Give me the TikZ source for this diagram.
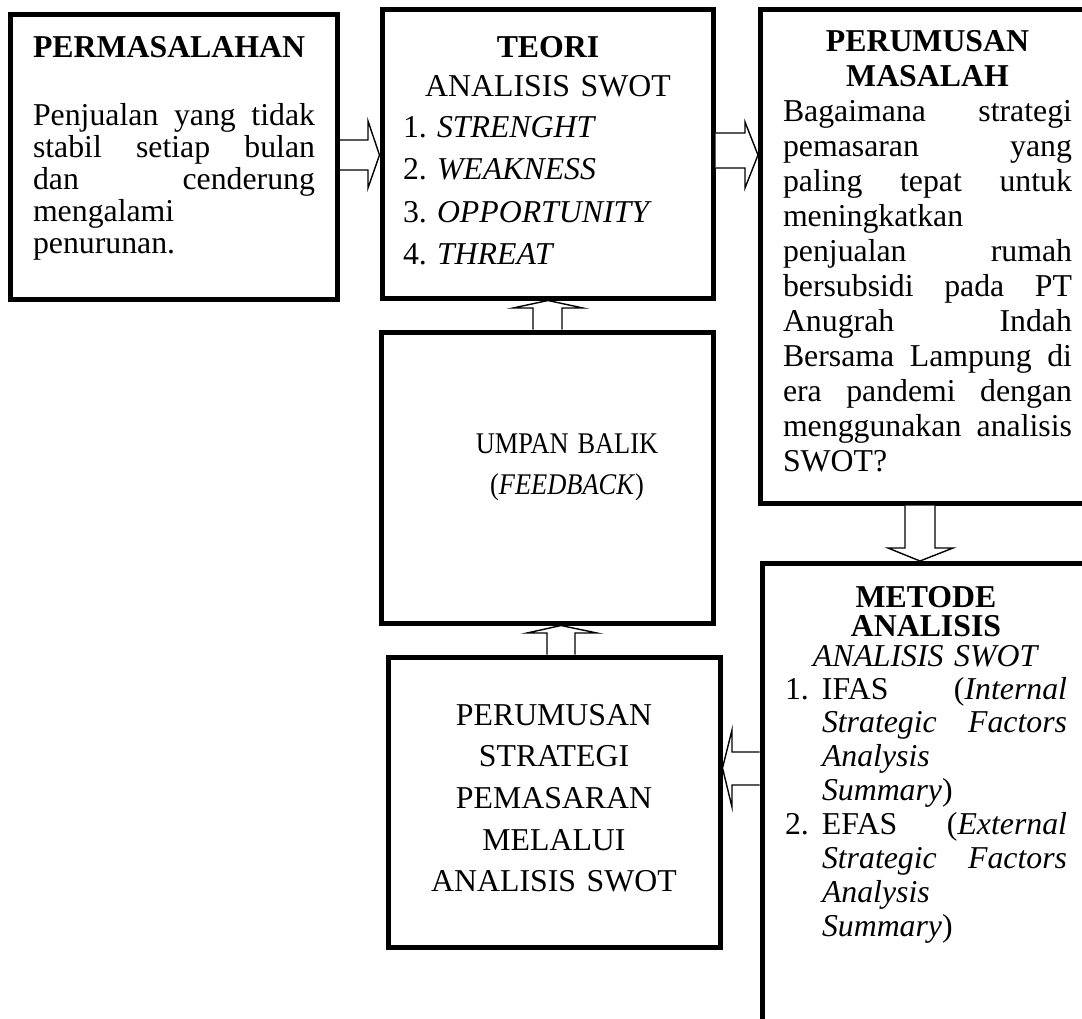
\documentclass[tikz,border=0pt]{standalone}
\usepackage{graphicx}
\usepackage{fontspec}
\setmainfont{Liberation Serif}
\usetikzlibrary{fit}
\newcommand\Jst[2]{{\spaceskip=0pt\xspaceskip=0pt\makebox[#1][s]{#2}}}
\newcommand\Lft[2]{\makebox[#1][l]{#2}}
\newcommand\Nar[1]{\scalebox{0.88}[1]{#1}}
\tikzset{
  box/.style={draw, line width=2.5pt, inner sep=0pt},
  txt/.style={inner sep=0pt, outer sep=0pt},
  barrow/.style={draw=black, fill=white, line width=0.7pt, line join=miter},
}
\begin{document}
\begin{tikzpicture}[x=0.5pt, y=-0.5pt]
\clip (0,0) rectangle (1082,1018);
\fill[white] (0,0) rectangle (1082,1018);

% boxes
\node[box, fit={(10,14) (337.5,299.5)}] (b1) {};
\node[box, fit={(382,9) (713,298)}] (b2) {};
\node[box, fit={(760.5,9) (1100,503)}] (b3) {};
\node[box, fit={(762,563.5) (1100,1040)}] (b4) {};
\node[box, fit={(388,657) (720,947.5)}] (b5) {};
\node[box, fit={(381,332) (713.5,623)}] (b6) {};

% texts
\node[txt, text width=141pt, align=left, anchor=base west,
      font={\fontsize{15.9pt}{16pt}\selectfont}] (t1) at (33,57)
{\textbf{PERMASALAHAN}\\[18pt]
\Jst{141pt}{Penjualan yang tidak}\\
\Jst{141pt}{stabil setiap bulan}\\
\Jst{141pt}{dan cenderung}\\
mengalami\\
penurunan.};

\node[txt, text width=145pt, align=center, anchor=base west,
      font={\fontsize{15.9pt}{21.25pt}\selectfont}] (t2) at (403,57)
{\textbf{TEORI}\\[-1.75pt]
ANALISIS SWOT\\[-0.75pt]
\Lft{145pt}{\makebox[17pt][l]{1.}\textit{STRENGHT}}\\
\Lft{145pt}{\makebox[17pt][l]{2.}\textit{WEAKNESS}}\\
\Lft{145pt}{\makebox[17pt][l]{3.}\textit{OPPORTUNITY}}\\
\Lft{145pt}{\makebox[17pt][l]{4.}\textit{THREAT}}};

\node[txt, text width=144.5pt, align=center, anchor=base west,
      font={\fontsize{15.9pt}{17.5pt}\selectfont}] (t3) at (783,51)
{\textbf{PERUMUSAN}\\
\textbf{MASALAH}\\
\Jst{144.5pt}{Bagaimana strategi}\\
\Jst{144.5pt}{pemasaran yang}\\
\Jst{144.5pt}{paling tepat untuk}\\
\Lft{144.5pt}{meningkatkan}\\
\Jst{144.5pt}{penjualan rumah}\\
\Jst{144.5pt}{bersubsidi pada PT}\\
\Jst{144.5pt}{Anugrah Indah}\\
\Jst{144.5pt}{Bersama Lampung di}\\
\Jst{144.5pt}{era pandemi dengan}\\
\Jst{144.5pt}{menggunakan analisis}\\
\Lft{144.5pt}{SWOT?}};

\node[txt, text width=141pt, align=center, anchor=base west,
      font={\fontsize{15.9pt}{16.95pt}\selectfont}] (t4) at (785,607)
{\textbf{METODE}\\[-2.45pt]
\textbf{ANALISIS}\\[-1.95pt]
\textit{ANALISIS SWOT}\\[-0.45pt]
\Lft{141pt}{\makebox[18.5pt][l]{1.}\Jst{122.5pt}{IFAS (\textit{Internal}}}\\
\Lft{141pt}{\hspace*{18.5pt}\Jst{122.5pt}{\textit{Strategic Factors}}}\\
\Lft{141pt}{\hspace*{18.5pt}\textit{Analysis}}\\
\Lft{141pt}{\hspace*{18.5pt}\textit{Summary})}\\
\Lft{141pt}{\makebox[18.5pt][l]{2.}\Jst{122.5pt}{EFAS (\textit{External}}}\\
\Lft{141pt}{\hspace*{18.5pt}\Jst{122.5pt}{\textit{Strategic Factors}}}\\
\Lft{141pt}{\hspace*{18.5pt}\textit{Analysis}}\\
\Lft{141pt}{\hspace*{18.5pt}\textit{Summary})}};

\node[txt, text width=150pt, align=center, anchor=base,
      font={\fontsize{15.9pt}{20.85pt}\selectfont}] (t5) at (554,725)
{PERUMUSAN\\STRATEGI\\PEMASARAN\\MELALUI\\ANALISIS SWOT};

\node[txt, text width=150pt, align=center, anchor=base,
      font={\fontsize{15pt}{20.5pt}\selectfont}] (t6) at (567,453)
{\Nar{UMPAN BALIK}\\\Nar{(\textit{FEEDBACK})}};

% block arrows
\filldraw[barrow] (b1.east |- 0,140) -- (368,140) -- (368,121) -- (b2.west |- 0,155)
  -- (368,188) -- (368,170) -- (b1.east |- 0,170);
\filldraw[barrow] (b2.east |- 0,133) -- (745,133) -- (745,122) -- (b3.west |- 0,155)
  -- (745,188) -- (745,168) -- (b2.east |- 0,168);
\filldraw[barrow] (905,0 |- b3.south) -- (905,548) -- (888,548) -- (920,0 |- b4.north)
  -- (953,548) -- (935,548) -- (935,0 |- b3.south);
\filldraw[barrow] (b4.west |- 0,752) -- (732,752) -- (732,730) -- (b5.east |- 0,768)
  -- (732,807) -- (732,785) -- (b4.west |- 0,785);
\filldraw[barrow] (547,0 |- b5.north) -- (547,633) -- (527,633) -- (561,0 |- b6.south)
  -- (597,633) -- (575,633) -- (575,0 |- b5.north);
\filldraw[barrow] (533,0 |- b6.north) -- (533,308) -- (513,308) -- (548,0 |- b2.south)
  -- (583,308) -- (562,308) -- (562,0 |- b6.north);
\end{tikzpicture}
\end{document}
